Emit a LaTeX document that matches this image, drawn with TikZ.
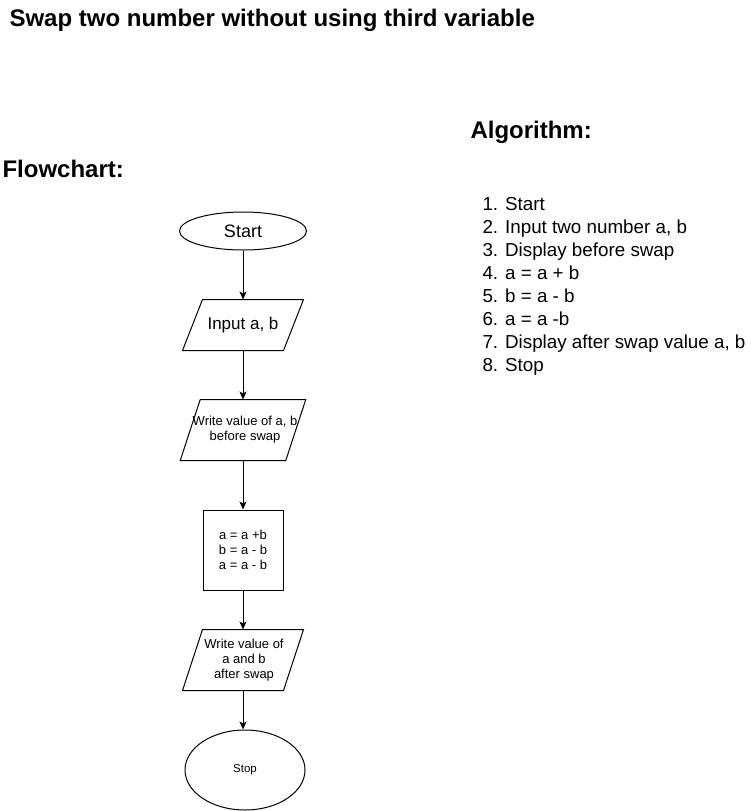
\documentclass[tikz,border=0pt]{standalone}
\usepackage{fontspec}
\setmainfont{Liberation Sans}
\usetikzlibrary{arrows.meta,shapes.geometric}
\begin{document}
\begin{tikzpicture}[x=1pt,y=-1pt,line width=1pt,
  term/.style={draw,ellipse,inner sep=0pt},
  io/.style={minimum width=100pt,inner sep=0pt,align=center},
  procbox/.style={draw,minimum width=80pt,minimum height=80pt,inner sep=0pt,align=center,font=\fontsize{13}{15}\selectfont},
  heading/.style={anchor=base west,inner sep=0pt,font=\bfseries\fontsize{24}{28}\selectfont},
  arr/.style={-{Stealth[length=8pt,width=7pt,inset=2pt]}}]
\useasboundingbox (0,0) rectangle (751,811);
\node[heading] (title) at (9,27) {Swap two number without using third variable};
\node[heading] (alg) at (470,138) {Algorithm:};
\node[heading] (fc) at (2,177) {Flowchart:};
\node[anchor=base west,inner sep=0pt,align=left,font=\fontsize{18.8}{22.86}\selectfont] (steps) at (482,371)
 {1. Start\\2. Input two number a, b\\3. Display before swap\\4. a = a + b\\5. b = a - b\\6. a = a -b\\7. Display after swap value a, b\\8. Stop};
\node[term,minimum width=127pt,minimum height=38pt,font=\fontsize{18}{20}\selectfont] (start) at (243,231) {Start};
\node[io,minimum height=50pt,font=\fontsize{17}{19}\selectfont] (in) at (243,325) {Input a, b};
\node[io,minimum height=60pt,font=\fontsize{13}{15}\selectfont] (w1) at (245,430) {Write value of a, b\\before swap};
\node[procbox] (calc) at (243,550) {a = a +b\\b = a - b\\a = a - b};
\node[io,minimum height=60pt,font=\fontsize{13}{15}\selectfont] (w2) at (244,660) {Write value of\\a and b\\after swap};
\node[term,minimum width=120pt,minimum height=80pt,font=\fontsize{11.5}{13}\selectfont] (stop) at (245,770) {Stop};
\foreach \n/\dx in {in/0,w1/-2,w2/-1}{
  \draw ([xshift=\dx pt-10pt]\n.south west) -- ([xshift=\dx pt+10pt]\n.north west) -- ([xshift=\dx pt+10pt]\n.north east) -- ([xshift=\dx pt-10pt]\n.south east) -- cycle;
}
\draw[arr] (start.south) -- (start.south |- in.north);
\draw[arr] (in.south) -- (in.south |- w1.north);
\draw[arr] (start.south |- w1.south) -- (calc.north);
\draw[arr] (calc.south) -- (calc.south |- w2.north);
\draw[arr] (calc.south |- w2.south) -- (calc.south |- stop.north);
\end{tikzpicture}
\end{document}
